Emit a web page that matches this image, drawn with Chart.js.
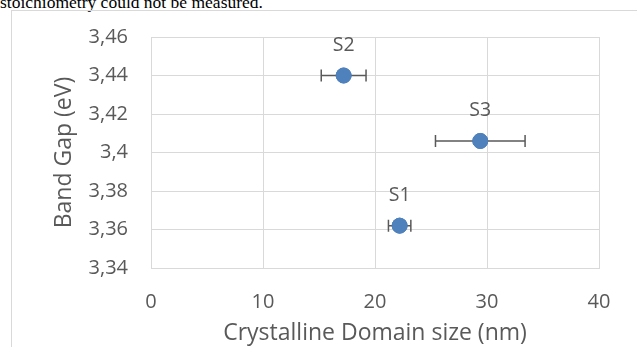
<!DOCTYPE html>
<html>
<head>
<meta charset="utf-8">
<script src="https://cdn.jsdelivr.net/npm/chart.js@4/dist/chart.umd.min.js"></script>
<style>
  html, body { margin: 0; padding: 0; background: #fff; overflow: hidden; }
  #wrap { position: relative; width: 637px; height: 347px; }
  #caption {
    position: absolute; left: 0; top: -8px;
    font-family: "Liberation Serif", "DejaVu Serif", serif;
    font-size: 17.5px; color: #000; white-space: nowrap;
  }
  #frame {
    position: absolute; left: 11px; top: 10px; width: 700px; height: 400px;
    border-top: 1px solid #d9d9d9; border-left: 1px solid #d9d9d9;
  }
  #chart { position: absolute; left: 0; top: 0; }
</style>
</head>
<body>
<div id="wrap">
  <div id="caption">stoichiometry could not be measured.</div>
  <div id="frame"></div>
  <canvas id="chart" width="637" height="347"></canvas>
</div>
<script>
// sample data
const sampleNames = ['S1', 'S2', 'S3'];
const domainSize = [22.2, 17.2, 29.4];   // nm
const bandGap = [3.362, 3.44, 3.406];   // eV
const sizeError = [1.0, 2.0, 4.0];       // +/- nm

const textColor = '#595959';
const gridColor = '#d9d9d9';
const fontFamily = '"Open Sans", "Liberation Sans", sans-serif';

// horizontal error bars
const errorBars = {
    id: 'errorBars',
    afterDatasetsDraw(chart) {
        const ctx = chart.ctx;
        const xs = chart.scales.x;
        const ys = chart.scales.y;
        ctx.save();
        ctx.strokeStyle = textColor;
        ctx.lineWidth = 1.5;
        domainSize.forEach((x, i) => {
            const y = ys.getPixelForValue(bandGap[i]);
            const x1 = xs.getPixelForValue(x - sizeError[i]);
            const x2 = xs.getPixelForValue(x + sizeError[i]);
            ctx.beginPath();
            ctx.moveTo(x1, y); ctx.lineTo(x2, y);
            ctx.moveTo(x1, y - 6); ctx.lineTo(x1, y + 6);
            ctx.moveTo(x2, y - 6); ctx.lineTo(x2, y + 6);
            ctx.stroke();
        });
        // redraw points on top of the bars
        chart.getDatasetMeta(0).controller.draw();
        ctx.restore();
    }
};

// S1/S2/S3 labels above points
const pointLabels = {
    id: 'pointLabels',
    afterDraw(chart) {
        const ctx = chart.ctx;
        const meta = chart.getDatasetMeta(0);
        ctx.save();
        ctx.fillStyle = textColor;
        ctx.font = '19.5px ' + fontFamily;
        ctx.textAlign = 'center';
        ctx.textBaseline = 'middle';
        meta.data.forEach((pt, i) => {
            ctx.fillText(sampleNames[i], pt.x, pt.y - 30.5);
        });
        ctx.restore();
    }
};

new Chart(document.getElementById('chart'), {
    type: 'scatter',
    data: {
        datasets: [{
            data: domainSize.map((x, i) => ({ x: x, y: bandGap[i] })),
            backgroundColor: '#4f81bd',
            borderColor: '#4f81bd',
            pointRadius: 7.5,
            pointHoverRadius: 7.5
        }]
    },
    options: {
        responsive: false,
        animation: false,
        events: [],
        layout: { padding: { top: 37, right: 38, left: 0, bottom: 0 } },
        plugins: { legend: { display: false }, tooltip: { enabled: false } },
        scales: {
            x: {
                min: 0, max: 40,
                ticks: { stepSize: 10, color: textColor, padding: 22, font: { family: fontFamily, size: 20 } },
                grid: { color: gridColor, drawTicks: false },
                border: { color: gridColor },
                title: {
                    display: true, text: 'Crystalline Domain size (nm)', color: textColor,
                    font: { family: fontFamily, size: 23 }, padding: { top: 0, bottom: 0 }
                },
                afterFit(scale) { scale.height = 79; }
            },
            y: {
                min: 3.34, max: 3.46,
                ticks: {
                    stepSize: 0.02, color: textColor, padding: 23,
                    font: { family: fontFamily, size: 20 },
                    callback: v => String(Math.round(v * 100) / 100).replace('.', ',')
                },
                grid: { color: gridColor, drawTicks: false },
                border: { color: gridColor },
                title: {
                    display: true, text: 'Band Gap (eV)', color: textColor,
                    font: { family: fontFamily, size: 23 }, padding: { top: 51, bottom: 0 }
                },
                afterFit(scale) { scale.width = 151; }
            }
        }
    },
    plugins: [errorBars, pointLabels]
});
</script>
</body>
</html>
